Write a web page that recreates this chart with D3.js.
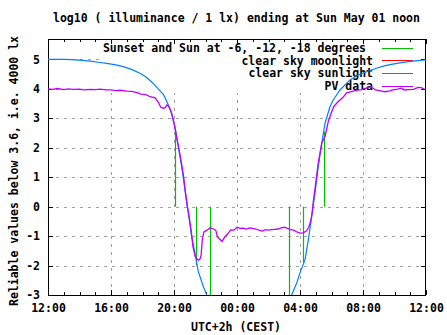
<!DOCTYPE html>
<html>
<head>
<meta charset="utf-8">
<script src="https://cdn.jsdelivr.net/npm/d3@7"></script>
<style>
  html, body { margin: 0; padding: 0; background: #fff; }
  svg { display: block; }
  text { font-family: "DejaVu Sans Mono", "Liberation Mono", monospace; font-weight: bold; font-size: 11.5px; fill: #000; }
</style>
</head>
<body>
<svg id="chart" width="447" height="335"></svg>
<script>
// ---------------- data ----------------
const titleText = "log10 ( illuminance / 1 lx) ending at Sun May 01 noon";
const yLabelText = "Reliable values below 3.6, i.e. 4000 lx";
const xLabelText = "UTC+2h (CEST)";

// x = hours after Sat Apr 30 12:00 (CEST)
const xTickHours = [0, 4, 8, 12, 16, 20, 24];
const xTickLabels = ["12:00", "16:00", "20:00", "00:00", "04:00", "08:00", "12:00"];
const yTicks = [-3, -2, -1, 0, 1, 2, 3, 4, 5];

// clear sky sunlight (model)
const sunHours  = [0, 1.0, 1.5, 2.0, 2.67, 3.2, 3.73, 4.3, 4.78, 5.3, 5.84, 6.2, 6.48, 6.75, 7.0, 7.2, 7.32, 7.45, 7.64, 7.85, 8.06, 8.27, 8.49, 8.70, 8.91, 9.12, 9.33, 9.54, 9.86, 10.08, 10.3,
                   15.2, 15.47, 15.79, 16.0, 16.32, 16.53, 16.74, 16.95, 17.16, 17.38, 17.59, 17.9, 18.11, 18.54, 19.17, 19.7, 20.23, 20.8, 21.29, 21.8, 22.35, 23.0, 23.81, 24];
const sunValues = [5.00, 5.00, 4.99, 4.97, 4.94, 4.90, 4.86, 4.81, 4.75, 4.66, 4.53, 4.41, 4.28, 4.14, 4.00, 3.88, 3.81, 3.68, 3.45, 3.17, 2.72, 2.04, 1.36, 0.57, -0.22, -1.01, -1.58, -2.20, -2.71, -3.0, -3.3,
                   -3.3, -3.0, -2.59, -2.25, -1.80, -1.13, -0.34, 0.46, 1.36, 2.15, 2.83, 3.39, 3.62, 3.96, 4.30, 4.47, 4.58, 4.69, 4.77, 4.83, 4.88, 4.93, 4.97, 4.98];

// PV data (measured)
const pvHours  = [0, 0.3, 0.6, 1.0, 1.3, 1.6, 2.0, 2.3, 2.7, 3.0, 3.3, 3.7, 4.0, 4.3, 4.6, 5.0, 5.3, 5.6, 5.9, 6.2, 6.5, 6.8, 7.0, 7.15, 7.3, 7.45, 7.55, 7.65, 7.8, 7.9, 8.0,
                  8.15, 8.3, 8.45, 8.6, 8.72, 8.85, 8.95, 9.1, 9.2, 9.35, 9.45, 9.55, 9.65, 9.72, 9.8, 9.9, 10.1, 10.3, 10.5, 10.65, 10.75, 10.9, 11.05, 11.2, 11.4, 11.6, 11.8,
                  12.0, 12.2, 12.4, 12.6, 12.8, 13.0, 13.2, 13.4, 13.6, 13.8, 14.0, 14.2, 14.4, 14.6, 14.8, 15.0, 15.2, 15.4, 15.6, 15.8, 16.0, 16.2, 16.4, 16.55, 16.65, 16.75,
                  16.85, 17.0, 17.15, 17.38, 17.6, 17.8, 18.0, 18.15, 18.4, 18.75, 18.95, 19.5, 19.9, 20.2, 20.5, 20.8, 21.1, 21.4, 21.7, 21.9, 22.2, 22.45, 22.6, 22.9, 23.2, 23.5, 23.7, 23.85, 24];
const pvValues = [4.00, 3.98, 4.01, 3.97, 4.00, 3.98, 3.99, 3.96, 3.98, 3.97, 3.99, 3.96, 3.96, 3.94, 3.95, 3.92, 3.91, 3.88, 3.82, 3.80, 3.73, 3.69, 3.55, 3.38, 3.34, 3.36, 3.45, 3.42, 3.25, 3.05, 2.83,
                  2.40, 2.00, 1.55, 1.05, 0.50, 0.00, -0.30, -0.85, -1.35, -1.70, -1.77, -1.82, -1.78, -1.65, -1.10, -0.86, -0.80, -0.72, -0.76, -0.80, -1.02, -1.10, -1.18, -1.05, -0.93, -0.79, -0.80,
                  -0.70, -0.74, -0.73, -0.76, -0.72, -0.74, -0.76, -0.80, -0.83, -0.78, -0.80, -0.78, -0.77, -0.76, -0.72, -0.70, -0.74, -0.78, -0.80, -0.86, -0.90, -0.89, -0.83, -0.70, -0.55, -0.30,
                  0.20, 0.80, 1.45, 2.15, 2.40, 2.90, 3.20, 3.40, 3.55, 3.72, 3.86, 3.94, 3.97, 4.02, 4.07, 3.96, 3.93, 3.90, 3.93, 3.96, 3.99, 4.02, 3.96, 3.97, 3.98, 4.05, 4.04, 4.00, 3.99];

// Sunset and Sun at -6, -12, -18 degrees: vertical markers from 0 to model value
const eventHours  = [8.06, 9.40, 10.30, 15.32, 16.21, 17.52];
const eventValues = [2.60, -2.00, -3.30, -3.30, -1.90, 2.55];

const legendLabels = ["Sunset and Sun at -6, -12, -18 degrees", "clear sky moonlight", "clear sky sunlight", "PV data"];
const legendColors = ["#00c000", "#ff0000", "#0080ff", "#c000ff"];

// ---------------- layout ----------------
const L = 48, R = 426, T = 39, B = 295;

const svg = d3.select("#chart");
const x = d3.scaleLinear().domain([0, 24]).range([L, R]);
const y = d3.scaleLinear().domain([-3, 5.69]).range([B, T]);

svg.append("defs").append("clipPath").attr("id", "clip")
  .append("rect").attr("x", L).attr("y", T).attr("width", R - L).attr("height", B - T);

// grid
const grid = svg.append("g").attr("stroke", "#a0a0a0").attr("stroke-dasharray", "3,5")
  .attr("shape-rendering", "crispEdges");
grid.selectAll("line.gx").data(xTickHours.slice(1, -1)).join("line")
  .attr("x1", d => Math.round(x(d)) + 0.5).attr("x2", d => Math.round(x(d)) + 0.5)
  .attr("y1", B).attr("y2", T);
grid.selectAll("line.gy").data(yTicks.slice(1)).join("line")
  .attr("y1", d => Math.round(y(d)) + 0.5).attr("y2", d => Math.round(y(d)) + 0.5)
  .attr("x1", L).attr("x2", R);

// key box hides the grid behind it
svg.append("rect").attr("x", 99).attr("y", T + 1).attr("width", R - 99).attr("height", 92 - T)
  .attr("fill", "#fff");

// axes (gnuplot-like inward ticks)
const fmt = (d) => xTickLabels[xTickHours.indexOf(d)];
const minorHours = d3.range(0, 25, 1);
const axG = svg.append("g").attr("shape-rendering", "crispEdges");
axG.append("g").attr("transform", `translate(0,${B})`)
  .call(d3.axisBottom(x).tickValues(xTickHours).tickFormat(fmt).tickSizeInner(-5).tickSizeOuter(0).tickPadding(9));
axG.append("g").attr("transform", `translate(0,${T})`)
  .call(d3.axisTop(x).tickValues(xTickHours).tickFormat("").tickSizeInner(-5).tickSizeOuter(0));
axG.append("g").attr("transform", `translate(0,${B})`)
  .call(d3.axisBottom(x).tickValues(minorHours).tickFormat("").tickSizeInner(-3).tickSizeOuter(0));
axG.append("g").attr("transform", `translate(0,${T})`)
  .call(d3.axisTop(x).tickValues(minorHours).tickFormat("").tickSizeInner(-3).tickSizeOuter(0));
const leftAxis = axG.append("g").attr("transform", `translate(${L},0)`)
  .call(d3.axisLeft(y).tickValues(yTicks).tickFormat(d3.format("d")).tickSizeInner(-5).tickSizeOuter(0).tickPadding(8));
axG.append("g").attr("transform", `translate(${R},0)`)
  .call(d3.axisRight(y).tickValues(yTicks).tickFormat("").tickSizeInner(-5).tickSizeOuter(0));
axG.selectAll(".domain").remove();
axG.selectAll(".tick line").attr("stroke", "#000");
axG.selectAll("text").attr("font-family", null).attr("font-size", null).attr("fill", "#000");
leftAxis.selectAll("text").text(d => d < 0 ? "-" + Math.abs(d) : d);

// frame
svg.append("rect").attr("x", L + 0.5).attr("y", T + 0.5).attr("width", R - L - 1).attr("height", B - T)
  .attr("fill", "none").attr("stroke", "#000").attr("shape-rendering", "crispEdges");

// legend
const lg = svg.append("g");
legendLabels.forEach((lab, i) => {
  const yy = 47.7 + i * 12.7;
  lg.append("text").attr("x", i === 0 ? 366 : 373).attr("y", yy).attr("dy", "0.36em")
    .attr("text-anchor", "end").text(lab);
  lg.append("line").attr("x1", 382).attr("x2", 413).attr("y1", Math.round(yy) + 0.5).attr("y2", Math.round(yy) + 0.5)
    .attr("stroke", legendColors[i]).attr("stroke-width", 1);
});

// data
const plot = svg.append("g").attr("clip-path", "url(#clip)");
const line = d3.line().x(d => x(d[0])).y(d => y(d[1]));

plot.selectAll("line.ev").data(eventHours.map((h, i) => [h, eventValues[i]])).join("line")
  .attr("x1", d => Math.round(x(d[0])) + 0.5).attr("x2", d => Math.round(x(d[0])) + 0.5)
  .attr("y1", y(0)).attr("y2", d => y(d[1]))
  .attr("stroke", legendColors[0]).attr("stroke-width", 1.2);

plot.append("path").datum(sunHours.map((h, i) => [h, sunValues[i]]))
  .attr("d", line).attr("fill", "none").attr("stroke", legendColors[2]).attr("stroke-width", 1.2);

plot.append("path").datum(pvHours.map((h, i) => [h, pvValues[i]]))
  .attr("d", line).attr("fill", "none").attr("stroke", legendColors[3]).attr("stroke-width", 1.3);

// titles
svg.append("text").attr("x", 236.5).attr("y", 22).attr("text-anchor", "middle").text(titleText);
svg.append("text").attr("x", 236).attr("y", 331).attr("text-anchor", "middle").text(xLabelText);
svg.append("text").attr("transform", "translate(18,171) rotate(-90)").attr("text-anchor", "middle").text(yLabelText);
</script>
</body>
</html>
